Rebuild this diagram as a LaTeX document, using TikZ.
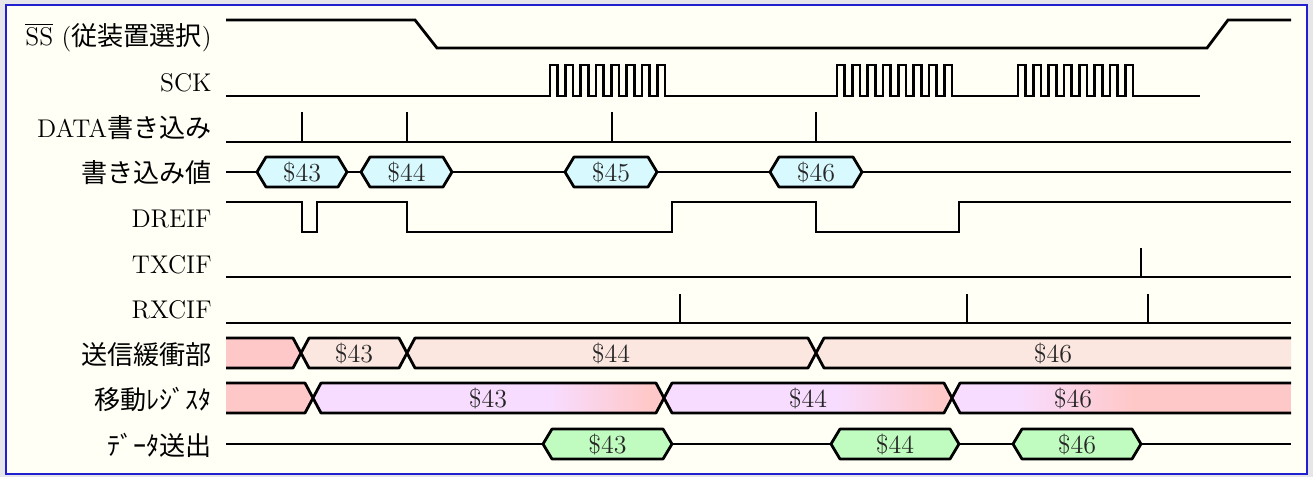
\documentclass[tikz,border=0pt]{standalone}
\usepackage{fontspec}
\usepackage{tikz}
\usetikzlibrary{positioning}
\newfontfamily\jpfont[Scale=1.02]{Noto Sans CJK JP}
\definecolor{paper}{HTML}{FFFFF6}
\definecolor{outside}{HTML}{E6E6EA}
\definecolor{frameblue}{HTML}{2020D0}
\definecolor{writecyan}{HTML}{D8FAFF}
\definecolor{bufpink}{HTML}{FFC8C8}
\definecolor{bufpeach}{HTML}{FBE6E0}
\definecolor{shiftviolet}{HTML}{F8DCFF}
\definecolor{sendgreen}{HTML}{C0FCC0}

\begin{document}
\begin{tikzpicture}[
        x=0.5pt, y=-0.5pt,
        sig/.style={
            anchor=base east,
            inner sep=0pt,
            font=\fontsize{12.8}{15}\selectfont
        },
        val/.style={
            anchor=base,
            inner sep=0pt,
            yshift=-4.5pt,
            text=black!85,
            font=\fontsize{13}{15}\selectfont
        },
        wave/.style={line width=1.4pt, line join=miter},
        bus/.style={line width=1.4pt, line join=round}
    ]
        \useasboundingbox (0,0) rectangle (1313,477);
        \fill[outside] (0,0) rectangle (1313,477);
        \draw[frameblue, line width=0.8pt, fill=paper] (6,5) rectangle (1307,474);

        % signal names
        \node[sig] (ss) at (212,45) {$\overline{\mathrm{SS}}$ ({\jpfont 従装置選択})};
        \node[sig] (sck) at (212,91) {SCK};
        \node[sig] (dwr) at (212,137) {DATA{\jpfont 書き込み}};
        \node[sig] (wval) at (212,182) {{\jpfont 書き込み値}};
        \node[sig] (dreif) at (212,227) {DREIF};
        \node[sig] (txcif) at (212,273) {TXCIF};
        \node[sig] (rxcif) at (212,318) {RXCIF};
        \node[sig] (txbuf) at (212,364) {{\jpfont 送信緩衝部}};
        \node[sig] (shreg) at (212,409) {{\jpfont 移動ﾚｼﾞｽﾀ}};
        \node[sig] (txout) at (212,455) {{\jpfont ﾃﾞｰﾀ送出}};

        % SS and SCK
        \draw[wave] (226,20) -- (415,20) -- (437,48) -- (1207,48) -- (1228,20) -- (1291,20);
        \draw[wave] (226,96) \foreach \s in {550,837,1018} { -- (\s,96)
            \foreach \i in {1,...,8} { -- ++(0,-31) -- ++(7.67,0) -- ++(0,31) -- ++(7.67,0) } } -- (1200,96);

        % DATA write strobes
        \draw[wave] (226,142) -- (1291,142);
        \foreach \x in {302,407,612,816}
            \draw[wave] (\x,142) -- (\x,112);

        % written values
        \draw[wave] (226,172) -- (1291,172);
        \foreach \a/\b/\t/\n in {257/347/43/w43, 361/452/44/w44, 565/657/45/w45, 770/862/46/w46} {
            \draw[bus, fill=writecyan] (\a,172) -- (\a+9,157) -- (\b-9,157) -- (\b,172) -- (\b-9,187) -- (\a+9,187) -- cycle;
            \node[val] (\n) at ({(\a+\b)/2},172) {\$\t};
        }

        % flags
        \draw[wave] (226,202) -- (302,202) -- (302,232) -- (317,232) -- (317,202) -- (407,202) -- (407,232)
            -- (672,232) -- (672,202) -- (816,202) -- (816,232) -- (959,232) -- (959,202) -- (1291,202);
        \draw[wave] (226,277) -- (1291,277);
        \draw[wave] (1141,277) -- (1141,248);
        \draw[wave] (226,323) -- (1291,323);
        \foreach \x in {680,967,1148}
            \draw[wave] (\x,323) -- (\x,294);

        % transmit buffer
        \fill[bufpink] (226,338) -- (293,338) -- (301,353) -- (293,368) -- (226,368) -- cycle;
        \draw[bus] (226,338) -- (293,338) -- (301,353) -- (293,368) -- (226,368);
        \foreach \a/\b in {301/407, 407/816}
            \draw[bus, fill=bufpeach] (\a,353) -- (\a+8,338) -- (\b-8,338) -- (\b,353) -- (\b-8,368) -- (\a+8,368) -- cycle;
        \fill[bufpeach] (816,353) -- (824,338) -- (1291,338) -- (1291,368) -- (824,368) -- cycle;
        \draw[bus] (1291,338) -- (824,338) -- (816,353) -- (824,368) -- (1291,368);
        \node[val] (b43) at (354,353) {\$43};
        \node[val] (b44) at (611,353) {\$44};
        \node[val] (b46) at (1053,353) {\$46};

        % shift register
        \fill[bufpink] (226,383) -- (305,383) -- (313,398) -- (305,413) -- (226,413) -- cycle;
        \draw[bus] (226,383) -- (305,383) -- (313,398) -- (305,413) -- (226,413);
        \foreach \a/\b/\g/\h in {313/664/550/650, 664/952/837/940} {
            \begin{scope}
                \clip (\a,398) -- (\a+8,383) -- (\b-8,383) -- (\b,398) -- (\b-8,413) -- (\a+8,413) -- cycle;
                \fill[shiftviolet] (\a,380) rectangle (\b,416);
                \shade[left color=shiftviolet, right color=bufpink] (\g,380) rectangle (\h,416);
                \fill[bufpink] (\h-0.5,380) rectangle (\b,416);
            \end{scope}
            \draw[bus] (\a,398) -- (\a+8,383) -- (\b-8,383) -- (\b,398) -- (\b-8,413) -- (\a+8,413) -- cycle;
        }
        \begin{scope}
            \clip (952,398) -- (960,383) -- (1291,383) -- (1291,413) -- (960,413) -- cycle;
            \fill[shiftviolet] (952,380) rectangle (1291,416);
            \shade[left color=shiftviolet, right color=bufpink] (1018,380) rectangle (1133,416);
            \fill[bufpink] (1132.5,380) rectangle (1291,416);
        \end{scope}
        \draw[bus] (1291,383) -- (960,383) -- (952,398) -- (960,413) -- (1291,413);
        \node[val] (s43) at (488,398) {\$43};
        \node[val] (s44) at (808,398) {\$44};
        \node[val] (s46) at (1073,398) {\$46};

        % data out
        \draw[wave] (226,444) -- (1291,444);
        \foreach \a/\b/\t/\n in {543/672/43/o43, 831/959/44/o44, 1013/1141/46/o46} {
            \draw[bus, fill=sendgreen] (\a,444) -- (\a+9,429) -- (\b-9,429) -- (\b,444) -- (\b-9,459) -- (\a+9,459) -- cycle;
            \node[val] (\n) at ({(\a+\b)/2},444) {\$\t};
        }
    \end{tikzpicture}
\end{document}
